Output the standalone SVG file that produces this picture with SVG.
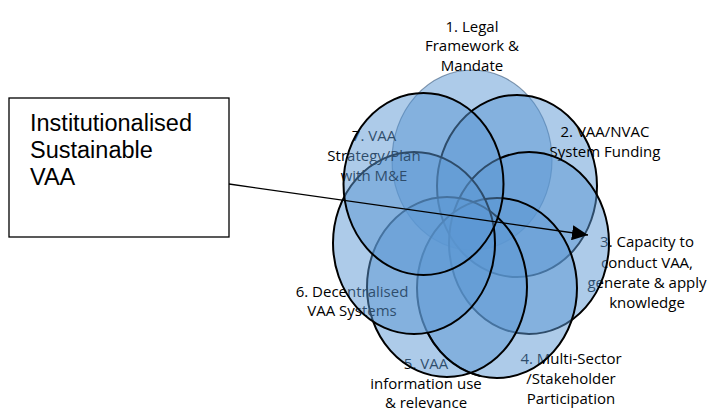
<svg xmlns="http://www.w3.org/2000/svg" width="708" height="411" viewBox="0 0 708 411">
<style>
.c{fill:#5b97d4;fill-opacity:0.5;stroke:#000;stroke-width:2}
.c1{fill:#5b97d4;fill-opacity:0.5;stroke:#2a4a70;stroke-opacity:0.55;stroke-width:1.2}
.ov{fill:none;stroke:#000;stroke-width:2}
.lb{font-family:"Open Sans","Noto Sans",sans-serif;font-size:15px;fill:#000;text-anchor:middle}
.bx{font-family:"Liberation Sans",Arial,sans-serif;font-size:23.5px;fill:#000}
.cn{stroke:#000;stroke-width:1.3;fill:none}
</style>
<defs>
<marker id="ah" markerUnits="userSpaceOnUse" markerWidth="17" markerHeight="15" refX="16" refY="7.5" orient="auto">
<path d="M0,0 L16,7.5 L0,15 z" fill="#000"/>
</marker>
<clipPath id="lowclip"><rect x="400" y="332" width="80" height="60"/></clipPath>
</defs>
<rect width="708" height="411" fill="#fff"/>
<g id="node1">
<ellipse class="c1" cx="472" cy="160" rx="80" ry="90"/>
<text class="lb" x="472" y="32">1. Legal</text>
<text class="lb" x="472" y="51">Framework &amp;</text>
<text class="lb" x="472" y="71">Mandate</text>
</g>
<g id="node2">
<ellipse class="c" cx="517" cy="186" rx="80" ry="91"/>
<text class="lb" x="605" y="137">2. VAA/NVAC</text>
<text class="lb" x="605" y="157">System Funding</text>
</g>
<g id="node3">
<text class="lb" x="647" y="247">3. Capacity to</text>
<text class="lb" x="647" y="268">conduct VAA,</text>
<text class="lb" x="647" y="288">generate &amp; apply</text>
<text class="lb" x="647" y="308">knowledge</text>
<ellipse class="c" cx="529" cy="243" rx="80" ry="91"/>
</g>
<g id="node4">
<text class="lb" x="571" y="364">4. Multi-Sector</text>
<text class="lb" x="571" y="384">/Stakeholder</text>
<text class="lb" x="571" y="404">Participation</text>
<ellipse class="c" cx="497" cy="288" rx="80" ry="90"/>
</g>
<g id="node5">
<text class="lb" x="426" y="369">5. VAA</text>
<text class="lb" x="426" y="389">information use</text>
<text class="lb" x="426" y="408">&amp; relevance</text>
<ellipse class="c" cx="447" cy="287" rx="80" ry="90"/>
<ellipse class="ov" cx="497" cy="288" rx="80" ry="90" clip-path="url(#lowclip)"/>
</g>
<g id="node6">
<text class="lb" x="352" y="297">6. Decentralised</text>
<text class="lb" x="352" y="316">VAA Systems</text>
<ellipse class="c" cx="414" cy="243" rx="81" ry="91"/>
</g>
<g id="node7">
<text class="lb" x="374" y="141">7. VAA</text>
<text class="lb" x="374" y="161">Strategy/Plan</text>
<text class="lb" x="374" y="181">with M&amp;E</text>
<ellipse class="c" cx="423.5" cy="184" rx="80" ry="91"/>
</g>
<g id="box">
<rect x="9" y="98" width="220" height="139" fill="#fff" stroke="#000" stroke-width="1.3"/>
<text class="bx" x="30" y="131">Institutionalised</text>
<text class="bx" x="30" y="158">Sustainable</text>
<text class="bx" x="30" y="185">VAA</text>
</g>
<g id="connectors">
<line class="cn" x1="229" y1="184" x2="588" y2="235" marker-end="url(#ah)"/>
</g>
</svg>
